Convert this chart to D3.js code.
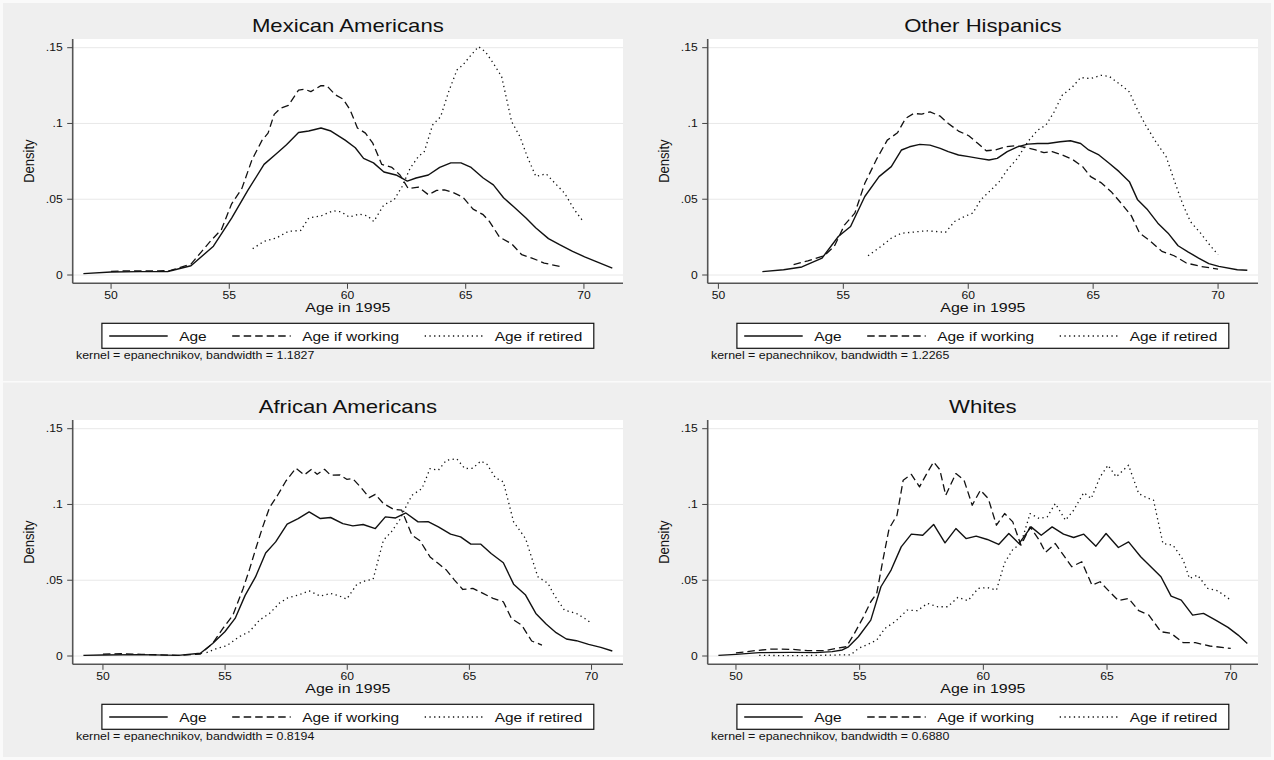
<!DOCTYPE html>
<meta charset="utf-8">
<style>
body {
  margin: 0;
  background: #fff;
  font-family: "Liberation Sans", Arial, Helvetica, sans-serif;
}
html { overflow: hidden; }
svg text { fill: #111; }
line.grid { stroke: #e8e8e8; stroke-width: 1px; }
line.axis { stroke: #555; stroke-width: 1.6px; }
line.tick { stroke: #444; stroke-width: 1px; }
path.kd { fill: none; stroke: #111; stroke-width: 1.3px; stroke-linejoin: round; }
</style>
<body>
<script src="https://cdn.jsdelivr.net/npm/d3@7"></script>
<script>
var titles = ["Mexican Americans", "Other Hispanics", "African Americans", "Whites"];
var bandwidths = ["1.1827", "1.2265", "0.8194", "0.6880"];
var seriesNames = ["Age", "Age if working", "Age if retired"];
var xTicks = [50, 55, 60, 65, 70];
var yTicks = [0, .05, .1, .15];
var yTickLabels = ["0", ".05", ".1", ".15"];

// Mexican Americans
var mexAge = [[48.83,.0009],[50,.002],[51.2,.0022],[52.4,.0023],[53.38,.0061],[54.33,.019],[55.1,.0376],[55.79,.056],[56.47,.073],[56.99,.080],[57.42,.086],[57.93,.094],[58.36,.095],[58.88,.097],[59.3,.095],[59.9,.089],[60.33,.084],[60.68,.077],[61.1,.074],[61.54,.068],[62.05,.066],[62.53,.062],[62.9,.064],[63.42,.066],[63.9,.071],[64.37,.074],[64.8,.074],[65.23,.071],[65.74,.064],[66.17,.0595],[66.6,.051],[67.03,.045],[67.55,.0376],[67.97,.031],[68.5,.024],[68.97,.020],[69.52,.0156],[70.03,.012],[70.55,.0086],[71.2,.0046]];
var mexWork = [[50,.0024],[50.6,.0027],[51.3,.0027],[52,.0027],[52.52,.003],[53.38,.0072],[54.24,.023],[54.67,.030],[55.1,.047],[55.53,.057],[55.96,.076],[56.39,.089],[56.64,.0936],[56.9,.106],[57.16,.110],[57.5,.112],[57.93,.122],[58.19,.1226],[58.45,.121],[58.88,.125],[59.13,.1248],[59.48,.119],[59.82,.116],[60.11,.109],[60.42,.097],[60.76,.0936],[61.07,.087],[61.45,.073],[61.88,.071],[62.22,.066],[62.57,.057],[63.0,.058],[63.42,.053],[63.77,.0558],[64.1,.0562],[64.46,.0545],[64.88,.0514],[65.31,.0435],[65.74,.0398],[66.0,.0354],[66.43,.025],[66.94,.0206],[67.37,.0134],[67.8,.0112],[68.32,.0079],[68.97,.0057]];
var mexRetired = [[55.99,.0174],[56.47,.0222],[56.99,.0244],[57.5,.0288],[58.02,.0294],[58.36,.0376],[58.88,.039],[59.39,.0424],[59.73,.0417],[60.08,.0382],[60.5,.0402],[60.85,.039],[61.11,.0353],[61.54,.0463],[61.97,.0496],[62.31,.0584],[62.65,.0705],[63.0,.0782],[63.25,.0815],[63.6,.099],[63.94,.1045],[64.28,.121],[64.63,.1353],[64.88,.1386],[65.23,.1452],[65.54,.1507],[65.83,.1474],[66.17,.1397],[66.52,.1309],[66.94,.1013],[67.29,.0914],[67.63,.0771],[67.97,.065],[68.4,.0668],[68.75,.061],[69.18,.054],[69.6,.043],[70.0,.0347]];

// Other Hispanics
var ohAge = [[51.76,.0022],[52.61,.0035],[53.34,.0053],[54.15,.0112],[54.8,.0254],[55.29,.032],[55.86,.0518],[56.43,.0649],[56.92,.0715],[57.33,.0825],[57.65,.0846],[58.06,.0862],[58.47,.0857],[58.88,.0836],[59.2,.0814],[59.61,.0792],[60.02,.0781],[60.42,.077],[60.83,.0759],[61.16,.077],[61.56,.0814],[61.97,.0846],[62.38,.0864],[62.78,.0868],[63.19,.0868],[63.68,.0879],[64.09,.0886],[64.5,.0868],[64.82,.0825],[65.23,.0792],[65.64,.0737],[66.04,.0682],[66.45,.0616],[66.78,.0496],[67.18,.043],[67.59,.0342],[68.0,.0276],[68.4,.0193],[68.81,.0151],[69.22,.0112],[69.63,.0075],[70.03,.0057],[70.77,.0035],[71.17,.0031]];
var ohWork = [[53.01,.0068],[53.58,.0094],[54.23,.0127],[54.64,.0189],[55.05,.0331],[55.46,.0408],[55.86,.0605],[56.35,.077],[56.76,.089],[57.17,.0939],[57.49,.1033],[57.82,.1066],[58.14,.1061],[58.47,.1077],[58.88,.1048],[59.2,.1],[59.61,.095],[60.02,.0919],[60.39,.0868],[60.72,.082],[61.07,.0825],[61.48,.0846],[61.89,.0853],[62.3,.0842],[62.7,.0825],[63.03,.0807],[63.36,.0814],[63.76,.0792],[64.17,.0763],[64.58,.0715],[64.9,.0649],[65.31,.061],[65.72,.055],[66.12,.0474],[66.53,.039],[66.86,.0276],[67.26,.0228],[67.75,.0156],[68.24,.0127],[68.73,.0079],[69.3,.0057],[70.0,.0039]];
var ohRetired = [[55.99,.0127],[56.51,.0189],[56.92,.0243],[57.33,.0276],[57.82,.0283],[58.31,.0292],[58.71,.0287],[59.09,.0281],[59.45,.0353],[59.85,.0386],[60.18,.0408],[60.5,.0496],[60.91,.0561],[61.24,.0616],[61.56,.0693],[61.97,.077],[62.38,.0879],[62.78,.0956],[63.11,.0989],[63.44,.1077],[63.76,.1186],[64.17,.1241],[64.5,.1303],[64.9,.1296],[65.31,.1318],[65.64,.1311],[66.04,.1263],[66.45,.1208],[66.78,.1088],[67.1,.0989],[67.51,.0879],[67.92,.0781],[68.24,.0627],[68.57,.0474],[68.89,.0353],[69.3,.0276],[69.71,.0189],[70.0,.0134]];

// African Americans
var afAge = [[49.2,.0004],[50,.0007],[51.58,.0009],[53.08,.0004],[53.99,.0018],[54.49,.0083],[54.99,.016],[55.41,.0248],[55.82,.040],[56.24,.052],[56.66,.068],[57.07,.0753],[57.54,.087],[57.99,.0907],[58.44,.0951],[58.9,.0907],[59.32,.0914],[59.82,.0874],[60.23,.0859],[60.65,.0868],[61.15,.0841],[61.56,.0918],[61.98,.0911],[62.4,.0944],[62.9,.0885],[63.31,.0887],[63.73,.0852],[64.23,.0804],[64.64,.0786],[65.06,.0738],[65.47,.0738],[65.89,.0676],[66.39,.0615],[66.81,.0474],[67.3,.0402],[67.72,.0281],[68.14,.0211],[68.55,.0154],[68.97,.0112],[69.38,.0101],[69.88,.0077],[70.38,.0057],[70.85,.0033]];
var afWork = [[50,.0013],[50.75,.0015],[51.58,.0011],[53.08,.0004],[53.99,.0013],[54.49,.0083],[54.91,.0182],[55.32,.027],[55.74,.0446],[55.99,.0567],[56.27,.0716],[56.54,.0852],[56.82,.098],[57.15,.1061],[57.49,.1155],[57.9,.1239],[58.24,.1195],[58.54,.1232],[58.77,.1199],[59.07,.1232],[59.32,.1193],[59.7,.1195],[59.98,.1166],[60.23,.117],[60.57,.1111],[60.9,.1045],[61.15,.1067],[61.48,.1006],[61.9,.0968],[62.23,.0962],[62.65,.0797],[62.98,.076],[63.39,.0654],[63.73,.061],[64.06,.0567],[64.39,.0501],[64.73,.0439],[65.14,.0446],[65.56,.0413],[65.97,.038],[66.39,.0358],[66.72,.0248],[67.14,.0204],[67.55,.0099],[67.97,.0072]];
var afRetired = [[54.24,.0022],[54.66,.005],[55.07,.0068],[55.57,.0127],[55.99,.016],[56.41,.0237],[56.82,.0281],[57.24,.0351],[57.57,.0384],[57.99,.0402],[58.44,.043],[58.9,.0395],[59.32,.0413],[59.65,.0398],[59.98,.0376],[60.4,.0474],[60.73,.0496],[61.06,.0507],[61.48,.0764],[61.81,.082],[62.15,.09],[62.4,.0984],[62.65,.1061],[63.06,.1105],[63.39,.1237],[63.73,.1226],[64.06,.1292],[64.48,.1302],[64.81,.1237],[65.14,.1239],[65.47,.1287],[65.72,.1265],[66.06,.1177],[66.39,.1149],[66.81,.0885],[67.3,.0775],[67.8,.0523],[68.22,.0479],[68.47,.0402],[68.89,.0303],[69.38,.0281],[69.72,.0248],[70.0,.0215]];

// Whites
var whAge = [[49.29,.0004],[50,.0011],[50.94,.0022],[52.25,.0024],[53.23,.0022],[53.89,.0029],[54.3,.004],[54.55,.0061],[54.95,.0127],[55.45,.0237],[55.86,.0457],[56.27,.0567],[56.68,.072],[57.09,.0804],[57.55,.0797],[57.99,.0868],[58.45,.0747],[58.89,.0841],[59.3,.0775],[59.71,.0791],[60.16,.0769],[60.62,.0736],[61.03,.0808],[61.44,.0742],[61.93,.0852],[62.34,.0797],[62.78,.0852],[63.24,.0804],[63.65,.0782],[64.06,.0804],[64.55,.0725],[64.96,.0808],[65.46,.0716],[65.87,.0753],[66.36,.0655],[66.77,.0589],[67.18,.0523],[67.59,.0395],[68.0,.0369],[68.46,.027],[68.9,.0281],[69.39,.0237],[69.89,.0189],[70.3,.0138],[70.67,.0083]];
var whWork = [[50,.002],[50.77,.0035],[51.43,.0046],[52.25,.0044],[52.9,.0035],[53.56,.0035],[54.05,.005],[54.46,.0061],[54.79,.0149],[55.12,.0248],[55.45,.0358],[55.69,.0413],[55.94,.0633],[56.19,.0841],[56.51,.0929],[56.76,.1160],[57.09,.1199],[57.42,.1116],[57.75,.1215],[57.99,.128],[58.24,.123],[58.48,.1061],[58.89,.1204],[59.22,.116],[59.55,.0995],[59.88,.1094],[60.2,.1039],[60.53,.0863],[60.86,.094],[61.19,.0885],[61.52,.0731],[61.89,.0852],[62.26,.0764],[62.51,.0684],[62.91,.0742],[63.24,.0665],[63.57,.0589],[63.98,.0622],[64.39,.0468],[64.72,.049],[65.04,.0435],[65.46,.0365],[65.87,.038],[66.28,.0299],[66.69,.027],[67.18,.016],[67.59,.0149],[68.08,.0088],[68.57,.0088],[69.15,.0066],[70.0,.005]];
var whRetired = [[50.94,.0004],[52.58,.0002],[54.22,.0007],[54.63,.0007],[54.95,.005],[55.36,.0079],[55.69,.0105],[56.02,.0182],[56.43,.0226],[56.92,.0303],[57.33,.0299],[57.74,.0347],[58.15,.0325],[58.56,.0325],[58.97,.0387],[59.38,.0365],[59.79,.0446],[60.16,.0452],[60.53,.0435],[60.86,.0615],[61.19,.0703],[61.52,.0742],[61.89,.094],[62.26,.0907],[62.58,.0918],[62.91,.1006],[63.32,.0896],[63.65,.0962],[64.06,.1078],[64.36,.1039],[64.72,.1182],[65.04,.1259],[65.37,.1182],[65.87,.1259],[66.28,.1072],[66.6,.1045],[66.88,.1028],[67.26,.0742],[67.67,.0731],[68.08,.0633],[68.33,.0512],[68.66,.0534],[69.07,.0446],[69.48,.043],[70.0,.0369]];

var panelSeries = [
  [mexAge, mexWork, mexRetired],
  [ohAge, ohWork, ohRetired],
  [afAge, afWork, afRetired],
  [whAge, whWork, whRetired]
];

var dashes = [null, "7.5,4", "1.3,3.4"];
var SX = 1.19; // the original graphic is stretched horizontally

var W = 1274, H = 760;
var colStep = 635, rowStep = 381;
var P = {l: 72.7, r: 623, t: 39, b: 283.3, y0: 275, y1: 47.7, inset: 10.7};

var svg = d3.select("body").append("svg").attr("width", W).attr("height", H);

svg.append("rect").attr("width", W).attr("height", H).attr("fill", "#fafafa");
svg.append("rect").attr("x", 3).attr("y", 3).attr("width", W - 6).attr("height", 378).attr("fill", "#efefef");
svg.append("rect").attr("x", 3).attr("y", 382.5).attr("width", W - 6).attr("height", H - 385.5).attr("fill", "#efefef");

function txt(g, x, y, s, size, anchor, rot) {
  return g.append("text")
    .attr("transform", "translate(" + x + "," + y + ") scale(" + SX + ",1)" + (rot ? " rotate(" + rot + ")" : ""))
    .attr("text-anchor", anchor)
    .style("font-size", size + "px")
    .text(s);
}

titles.forEach(function(title, i) {
  var g = svg.append("g")
    .attr("transform", "translate(" + (i % 2) * colStep + "," + Math.floor(i / 2) * rowStep + ")");
  var series = panelSeries[i];
  var allX = d3.merge(series).map(function(d) { return d[0]; });

  var x = d3.scaleLinear()
    .domain([Math.min(d3.min(allX), xTicks[0]), Math.max(d3.max(allX), xTicks[xTicks.length - 1])])
    .range([P.l + P.inset, P.r - P.inset]);
  var y = d3.scaleLinear()
    .domain([yTicks[0], yTicks[yTicks.length - 1]])
    .range([P.y0, P.y1]);

  g.append("rect").attr("x", P.l).attr("y", P.t).attr("width", P.r - P.l).attr("height", P.b - P.t).attr("fill", "#fff");

  g.selectAll("line.grid").data(yTicks).enter().append("line")
    .attr("class", "grid")
    .attr("x1", P.l).attr("x2", P.r)
    .attr("y1", function(d) { return y(d); }).attr("y2", function(d) { return y(d); });

  var line = d3.line().x(function(d) { return x(d[0]); }).y(function(d) { return y(d[1]); });
  series.forEach(function(s, k) {
    g.append("path").attr("class", "kd").attr("d", line(s))
      .style("stroke-dasharray", dashes[k])
      .style("stroke-width", k === 0 ? "1.4px" : "1.3px");
  });

  // axes
  g.append("line").attr("class", "axis").attr("x1", P.l).attr("x2", P.l).attr("y1", P.t).attr("y2", P.b);
  g.append("line").attr("class", "axis").attr("x1", P.l).attr("x2", P.r).attr("y1", P.b).attr("y2", P.b);

  yTicks.forEach(function(t, j) {
    g.append("line").attr("class", "tick").attr("x1", P.l - 5.5).attr("x2", P.l).attr("y1", y(t)).attr("y2", y(t));
    txt(g, P.l - 10, y(t) + 3.7, yTickLabels[j], 10.2, "end");
  });
  xTicks.forEach(function(t) {
    g.append("line").attr("class", "tick").attr("x1", x(t)).attr("x2", x(t)).attr("y1", P.b).attr("y2", P.b + 5.5);
    txt(g, x(t), P.b + 16, t, 10.2, "middle");
  });

  var cx = (P.l + P.r) / 2;
  txt(g, cx, 31.7, title, 18.6, "middle");
  txt(g, cx, 312.3, "Age in 1995", 13.4, "middle");
  txt(g, 33.5, (P.t + P.b) / 2, "Density", 13, "middle", -90);

  // legend
  var lg = g.append("g");
  var keyW = 58.5, keyGap = 11.5, colGap = 25.5, padL = 7.3, padR = 11.5;
  var labels = seriesNames.map(function(n) { return txt(lg, 0, 340.7, n, 13, "start"); });
  var widths = labels.map(function(t) { return t.node().getComputedTextLength() * SX; });
  var total = padL + padR + 3 * (keyW + keyGap) + d3.sum(widths) + 2 * colGap;
  var bx = cx - total / 2;
  var box = lg.insert("rect", "text")
    .attr("x", bx).attr("y", 323.3).attr("width", total).attr("height", 25)
    .attr("fill", "#fff").attr("stroke", "#111").attr("stroke-width", 1.2);
  var pos = bx + padL;
  seriesNames.forEach(function(n, k) {
    lg.append("line").attr("x1", pos).attr("x2", pos + keyW).attr("y1", 336).attr("y2", 336)
      .attr("stroke", "#111").attr("stroke-width", 1.3).style("stroke-dasharray", dashes[k]);
    labels[k].attr("transform", "translate(" + (pos + keyW + keyGap) + ",340.7) scale(" + SX + ",1)");
    pos += keyW + keyGap + widths[k] + colGap;
  });

  txt(g, 76, 359, "kernel = epanechnikov, bandwidth = " + bandwidths[i], 10.4, "start");
});
</script>
</body>
